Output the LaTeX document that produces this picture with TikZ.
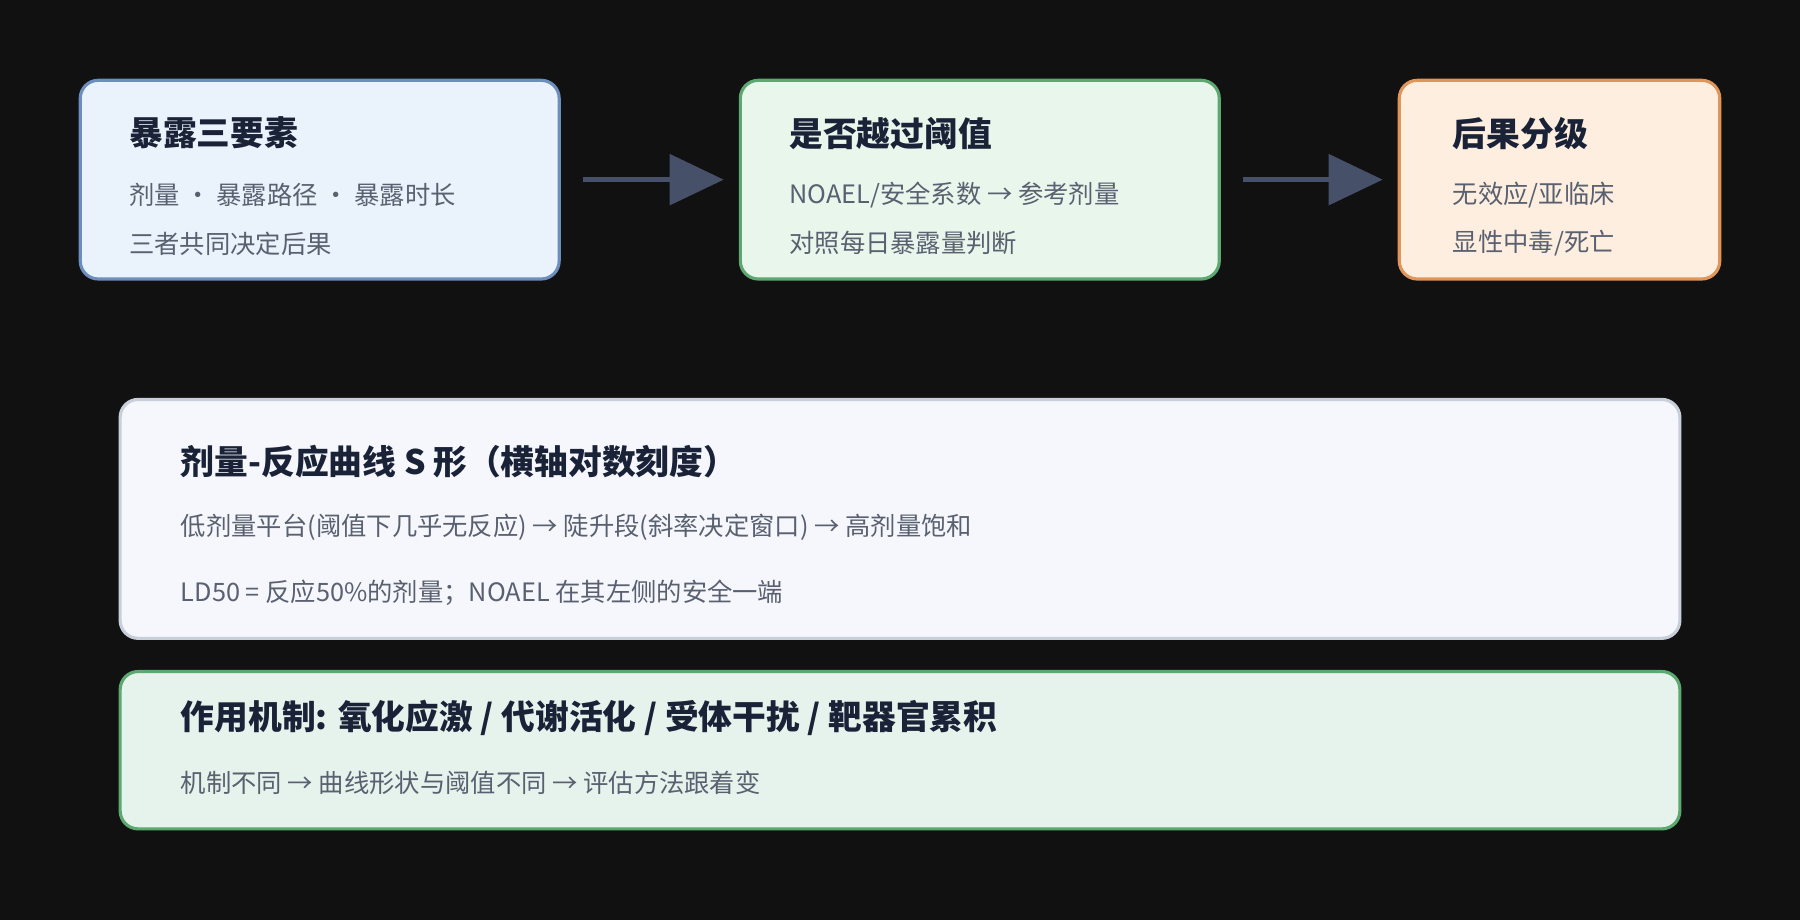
\documentclass[tikz,border=0pt]{standalone}
\usepackage{fontspec}
\setmainfont{Noto Sans CJK SC}
\usetikzlibrary{arrows.meta, positioning}
\definecolor{bgdark}{HTML}{111111}
\definecolor{titlecol}{HTML}{1A2238}
\definecolor{textcol}{HTML}{596070}
\definecolor{arrowcol}{HTML}{465069}
\definecolor{blueline}{HTML}{6C8EBF}
\definecolor{bluefill}{HTML}{EAF2FC}
\definecolor{greenline}{HTML}{5DA870}
\definecolor{greenfill}{HTML}{E9F6EC}
\definecolor{orangeline}{HTML}{E0955A}
\definecolor{orangefill}{HTML}{FDEEDF}
\definecolor{greyline}{HTML}{C8CFDB}
\definecolor{greyfill}{HTML}{F5F7FC}
\definecolor{mintfill}{HTML}{E6F3EC}
\tikzset{
  box/.style={draw, rounded corners=0.18cm, line width=0.9pt, inner sep=0pt},
  ttl/.style={anchor=west, text=titlecol, font=\fontsize{9.6}{11}\selectfont\bfseries, inner sep=0pt},
  txt/.style={anchor=west, text=textcol, font=\fontsize{7.2}{9}\selectfont, inner sep=0pt},
  flow/.style={arrowcol, line width=1.6pt, -{Triangle[length=0.54cm, width=0.5cm]},
    shorten <=0.22cm, shorten >=0.15cm}
}
\begin{document}
\begin{tikzpicture}[x=0.01148cm, y=-0.01148cm]
\fill[bgdark] (0,0) rectangle (1568,801);
\useasboundingbox (0,0) rectangle (1568,801);
%Top row boxes
\node[box, draw=blueline, fill=bluefill, minimum width=4.787cm, minimum height=1.986cm] (expo) at (278.5,156.5) {};
\node[box, draw=greenline, fill=greenfill, minimum width=4.787cm, minimum height=1.986cm] (thresh) at (853.5,156.5) {};
\node[box, draw=orangeline, fill=orangefill, minimum width=3.203cm, minimum height=1.986cm] (grade) at (1358.5,156.5) {};
%Arrows
\draw[flow] (expo.east) -- (thresh.west);
\draw[flow] (thresh.east) -- (grade.west);
%Bottom boxes
\node[box, draw=greyline, fill=greyfill, minimum width=15.59cm, minimum height=2.388cm] (curve) at (784,452) {};
\node[box, draw=greenline, fill=mintfill, minimum width=15.59cm, minimum height=1.573cm] (mech) at (784,653.5) {};
%Texts
\node[ttl] (expoT) at (112,116) {暴露三要素};
\node[txt] (expoA) at (112,170) {剂量 · 暴露路径 · 暴露时长};
\node[txt] (expoB) at (112,212) {三者共同决定后果};
\node[ttl] (threshT) at (687,116) {是否越过阈值};
\node[txt] (threshA) at (687,170) {NOAEL/安全系数 → 参考剂量};
\node[txt] (threshB) at (687,212) {对照每日暴露量判断};
\node[ttl] (gradeT) at (1265,116) {后果分级};
\node[txt] (gradeA) at (1265,170) {无效应/亚临床};
\node[txt] (gradeB) at (1265,212) {显性中毒/死亡};
\node[ttl] (curveT) at (157,402) {剂量-反应曲线 S 形（横轴对数刻度）};
\node[txt] (curveA) at (157,459) {低剂量平台(阈值下几乎无反应) → 陡升段(斜率决定窗口) → 高剂量饱和};
\node[txt] (curveB) at (157,516) {LD50 = 反应50\%的剂量；NOAEL 在其左侧的安全一端};
\node[ttl] (mechT) at (157,625) {作用机制: 氧化应激 / 代谢活化 / 受体干扰 / 靶器官累积};
\node[txt] (mechA) at (157,682) {机制不同 → 曲线形状与阈值不同 → 评估方法跟着变};
\end{tikzpicture}
\end{document}
